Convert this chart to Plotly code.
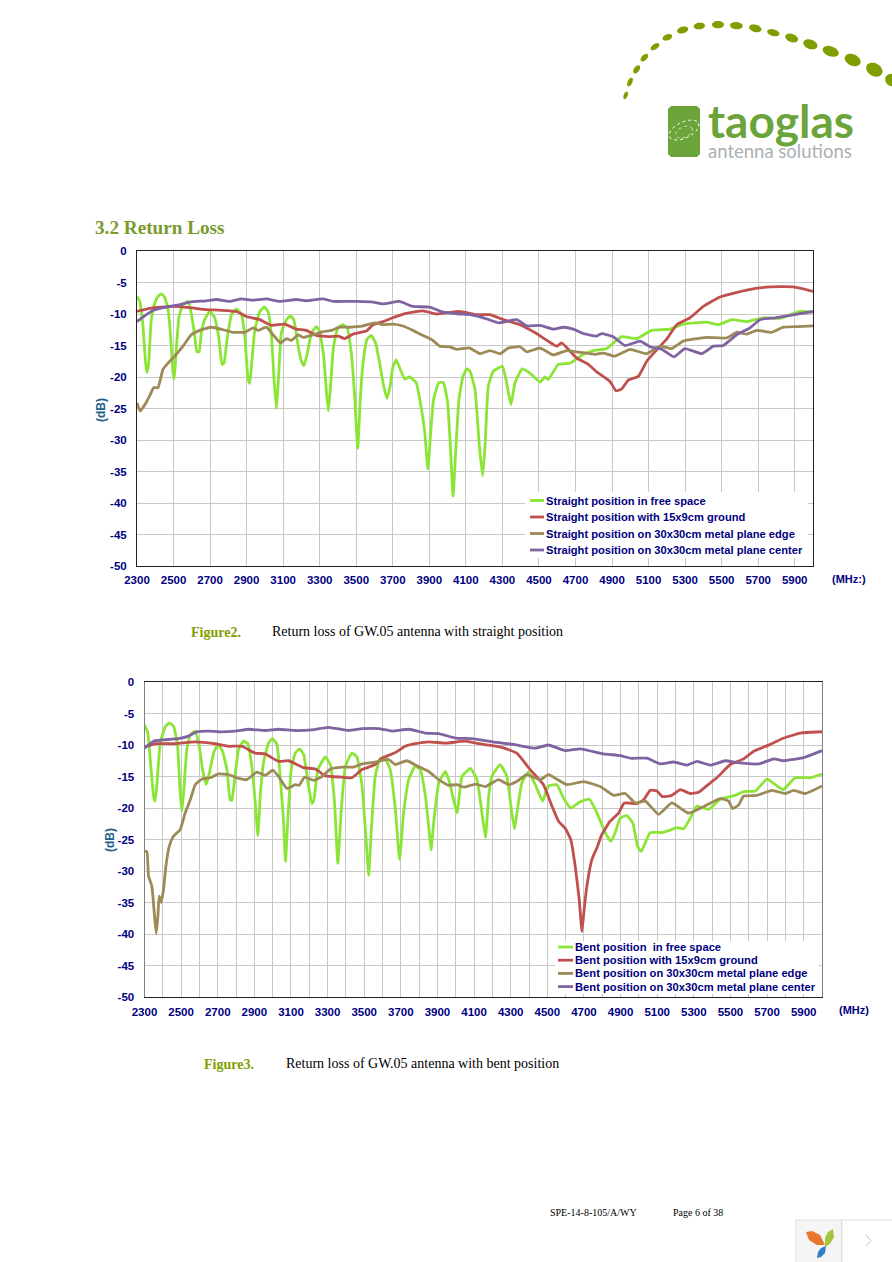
import numpy as np
import plotly.graph_objects as go

W, H = 892, 1262

# ---- top chart: straight position ----
s_free_x = [2300,2315,2333,2347,2355,2364,2378,2397,2415,2433,2451,2470,2484,2497,2504,2515,2530,2552,2579,2597,2616,2628,2640,2652,2670,2698,2725,2749,2765,2776,2793,2817,2844,2871,2890,2908,2917,2928,2945,2972,2996,3017,3036,3050,3063,3074,3090,3118,3140,3158,3182,3200,3214,3231,3255,3282,3300,3322,3336,3347,3358,3376,3400,3427,3450,3473,3491,3508,3522,3537,3559,3582,3606,3628,3650,3668,3686,3700,3719,3737,3765,3792,3828,3856,3875,3892,3905,3923,3952,3977,4000,4015,4030,4044,4062,4084,4106,4123,4150,4174,4192,4205,4223,4250,4300,4323,4347,4369,4409,4451,4506,4533,4551,4606,4670,4743,4798,4871,4907,4953,5035,5117,5217,5290,5418,5482,5555,5637,5728,5819,5929,6000]
s_free_y = [-7.2,-8,-12,-17.8,-19.3,-17.8,-11,-8.3,-7.2,-6.8,-7.3,-9.3,-13.5,-19.3,-20.3,-15.6,-10.4,-8.5,-8,-9.9,-13.5,-16,-16,-13,-10.9,-9.6,-10.6,-14,-18,-17.8,-14,-10.1,-9.2,-10,-13.5,-20.4,-21,-17.8,-12.5,-9.6,-8.9,-9.6,-13.5,-20.4,-25,-20.4,-13,-10.9,-10.3,-10.9,-15.1,-17.5,-18.2,-16.4,-13,-12,-12.8,-16.7,-22,-25.4,-22,-15.1,-12.2,-11.7,-12.2,-16.2,-23,-31.3,-23.6,-17.8,-14,-13.4,-14.6,-17.8,-21.4,-23.4,-21.4,-18.5,-17.3,-18.5,-20.3,-20,-20.9,-24.9,-28.8,-34.6,-29.9,-23.6,-20.9,-20.9,-24,-30.9,-38.9,-32,-23.6,-19.9,-18.7,-19.1,-22,-31,-35.7,-31,-21.4,-19.1,-18.3,-20.9,-24.4,-20.9,-18.7,-19.4,-20.8,-20,-20.4,-18,-17.8,-16.4,-15.8,-15.5,-14.6,-13.6,-13.9,-12.6,-12.4,-11.6,-11.3,-11.7,-10.9,-11.2,-10.6,-10.7,-9.6,-9.7]

s_ground_x = [2300,2369,2497,2588,2680,2753,2844,2899,2972,3036,3108,3172,3227,3282,3355,3400,3437,3482,3555,3592,3647,3700,3774,3865,3939,4066,4158,4232,4305,4396,4487,4597,4624,4707,4770,4816,4889,4922,4953,4989,5044,5090,5154,5199,5254,5327,5400,5491,5637,5765,5892,6000]
s_ground_y = [-9.6,-9.1,-8.8,-9,-9.3,-9.4,-9.6,-10.4,-10.9,-11.8,-11.6,-12.4,-12.6,-13.4,-13.6,-13.5,-13.9,-13.2,-12.7,-11.7,-11.2,-10.6,-9.9,-9.5,-10,-9.6,-10.1,-10.1,-10.9,-11.7,-13.1,-15.1,-14.6,-17,-18,-19.2,-20.7,-22.2,-21.9,-20.5,-19.9,-17.5,-15.4,-14,-11.7,-10.6,-8.8,-7.3,-6.2,-5.7,-5.7,-6.4]

s_edge_x = [2300,2318,2351,2369,2391,2415,2442,2470,2506,2552,2597,2643,2707,2771,2825,2889,2935,2962,3008,3045,3085,3118,3145,3181,3209,3263,3318,3364,3409,3464,3537,3601,3647,3700,3756,3810,3865,3920,3957,4011,4048,4121,4177,4232,4287,4332,4396,4433,4506,4579,4652,4707,4807,4852,4916,4998,5090,5163,5226,5290,5418,5527,5582,5637,5692,5774,5838,5920,6000]
s_edge_y = [-24.1,-25.4,-24,-23,-21.7,-21.7,-18.8,-17.8,-16.7,-15.1,-13.3,-12.6,-12.1,-12.5,-12.9,-12.9,-12.2,-12.6,-12.1,-13.3,-14.6,-13.9,-14.2,-13.3,-13.7,-13.3,-12.8,-12.6,-12.1,-12.1,-11.9,-11.4,-11.7,-11.6,-11.9,-12.6,-13.4,-14.2,-15.1,-15.2,-15.6,-15.4,-16.3,-15.8,-16.3,-15.4,-15.2,-16,-15.4,-16.5,-15.8,-16,-16.4,-16.2,-16.7,-15.6,-16.3,-15.1,-15.5,-14.3,-13.7,-13.8,-12.9,-13.2,-12.6,-12.9,-12.1,-12,-11.9]

s_center_x = [2300,2342,2388,2460,2534,2588,2680,2734,2807,2871,2935,3008,3081,3172,3227,3318,3373,3446,3500,3592,3647,3737,3810,3902,3975,4066,4123,4196,4278,4378,4433,4506,4579,4633,4688,4743,4816,4843,4907,4971,5053,5108,5172,5239,5299,5391,5455,5509,5582,5655,5710,5792,5874,6000]
s_center_y = [-11.2,-10.3,-9.4,-8.9,-8.5,-8.1,-7.9,-7.7,-8,-7.6,-7.8,-7.6,-8,-7.7,-7.9,-7.6,-8,-8,-8,-8.1,-8.4,-8,-8.8,-8.9,-9.7,-10,-10.1,-10.6,-11.4,-10.9,-11.9,-11.8,-12.4,-12.1,-12.4,-13.1,-13.5,-13.1,-13.6,-15,-14.3,-15.2,-15.6,-16.8,-15.5,-16.3,-15.1,-15,-13.3,-12.2,-10.9,-10.6,-10.2,-9.6]

# ---- bottom chart: bent position ----
b_free_x = [2300,2318,2336,2351,2358,2367,2386,2413,2435,2458,2480,2495,2504,2515,2531,2550,2577,2599,2617,2637,2655,2677,2701,2726,2750,2768,2777,2792,2814,2841,2865,2886,2905,2919,2932,2950,2977,2999,3023,3041,3060,3070,3083,3101,3123,3147,3169,3193,3214,3224,3247,3287,3315,3338,3356,3375,3397,3433,3460,3488,3509,3524,3539,3560,3588,3615,3642,3670,3693,3715,3743,3779,3806,3834,3852,3865,3879,3907,3943,3965,3988,4007,4034,4080,4116,4143,4162,4180,4197,4242,4279,4306,4321,4337,4361,4397,4434,4474,4506,4552,4588,4628,4679,4730,4771,4816,4847,4871,4898,4934,4967,4993,5013,5062,5126,5171,5208,5244,5281,5317,5381,5444,5526,5572,5636,5699,5745,5787,5854,5936,6000]
b_free_y = [-6.8,-8.1,-13.9,-18.4,-18.9,-16.5,-9.7,-7.1,-6.5,-7,-9.9,-17.6,-20.5,-17.1,-10.7,-8.4,-7.8,-10.2,-13.9,-16.3,-14.4,-11.3,-9.9,-11,-13.9,-18.7,-18.8,-15.5,-10.7,-9.4,-9.8,-13.4,-19.2,-24.4,-18.1,-12.8,-9.7,-9,-9.9,-15,-22.4,-28.5,-21.8,-13.9,-11.3,-10.6,-11.5,-16,-19.3,-18.9,-13.9,-11.9,-13.1,-19.2,-28.8,-20.2,-13.4,-11.3,-11.9,-16.5,-24.5,-30.7,-23.4,-15,-12.1,-12.2,-13.9,-20.2,-28.2,-20.8,-15.5,-13.3,-13.9,-18.1,-22.9,-26.7,-22.4,-16,-14.2,-15.8,-18.7,-20.8,-15,-13.7,-15.5,-20.8,-24.7,-18.1,-15,-13.1,-15,-20.8,-23.3,-20.2,-16,-14.3,-16.3,-18.9,-16.5,-16.3,-18.4,-20,-19,-18.6,-20.8,-23.9,-25.3,-23.9,-21.6,-21.2,-22.4,-26.1,-26.9,-23.9,-23.9,-23.5,-23.1,-23.3,-21.6,-19.7,-20.2,-18.6,-18,-17.4,-17.3,-15.4,-16.3,-17.1,-15.2,-15.2,-14.6]

b_ground_x = [2300,2358,2468,2577,2686,2759,2832,2905,2959,3032,3087,3169,3233,3287,3378,3433,3488,3560,3597,3670,3724,3779,3852,3943,4052,4125,4242,4333,4406,4479,4525,4561,4597,4628,4652,4674,4689,4701,4716,4743,4771,4798,4843,4889,4920,4989,5026,5062,5098,5129,5180,5226,5281,5326,5390,5426,5499,5572,5627,5718,5781,5882,6000]
b_ground_y = [-10.3,-9.8,-9.8,-9.5,-9.8,-10.2,-10.2,-11.3,-11.4,-12.6,-12.5,-13.6,-13.8,-14.9,-15.1,-15.2,-13.9,-13.1,-12.1,-11.2,-10.2,-9.8,-9.5,-9.7,-9.4,-9.8,-10.3,-11.3,-13.9,-16.3,-19.7,-22.1,-23.2,-25,-29.2,-34.5,-39.6,-36.1,-32.4,-28.2,-26.3,-24.2,-22.1,-20.8,-19.2,-19.3,-18.7,-17.2,-17.3,-18.2,-18,-17.1,-17.7,-17.5,-16,-15.2,-13.1,-12.2,-11,-9.9,-9,-8.1,-7.9]

b_edge_x = [2300,2313,2322,2340,2355,2364,2373,2380,2391,2404,2417,2435,2458,2495,2522,2550,2577,2614,2659,2704,2759,2814,2859,2914,2959,3001,3032,3078,3123,3145,3174,3224,3269,3315,3378,3442,3488,3560,3633,3670,3733,3788,3852,3907,3961,4007,4043,4107,4162,4233,4288,4333,4388,4461,4506,4607,4698,4789,4862,4925,4980,5035,5107,5180,5271,5372,5444,5490,5512,5545,5572,5645,5727,5800,5845,5909,6000]
b_edge_y = [-26.9,-26.9,-30.8,-32.4,-37.2,-39.9,-37.2,-34,-35,-32.9,-29.2,-26.1,-24.5,-23.4,-20.8,-18.7,-16.3,-15.4,-15.2,-14.6,-14.7,-15.3,-15.5,-14.3,-14.8,-14,-15,-16.9,-16.3,-16.4,-15.1,-15.6,-15,-13.8,-13.5,-13.5,-13,-12.7,-12.3,-13.1,-12.5,-13.3,-14.2,-15.5,-16.4,-16.3,-16.7,-16.2,-16.6,-15.5,-16.3,-15.8,-14.7,-15.5,-14.7,-16.3,-15.8,-16.6,-18,-17.7,-19.2,-18.9,-21,-19.2,-20.8,-19.5,-18.5,-18.9,-20.1,-19.5,-18.1,-18,-17.2,-17.7,-17.2,-17.7,-16.5]

b_center_x = [2300,2349,2395,2486,2540,2586,2650,2704,2795,2868,2959,3032,3123,3214,3305,3415,3488,3579,3652,3743,3834,3907,3998,4089,4224,4315,4434,4506,4597,4679,4807,4898,4953,5044,5117,5189,5262,5317,5390,5472,5536,5654,5736,5790,5900,6000]
b_center_y = [-10.5,-9.4,-9.2,-9,-8.6,-7.9,-7.8,-7.9,-7.8,-7.5,-7.7,-7.5,-7.7,-7.6,-7.2,-7.7,-7.4,-7.4,-7.8,-7.5,-8.1,-8.2,-8.9,-9,-9.6,-9.9,-10.5,-10,-10.9,-10.6,-11.4,-11.7,-12.1,-12.1,-13,-12.7,-13.2,-12.6,-13.2,-12.5,-12.8,-13,-12.2,-12.5,-12,-10.9]

x_ticks = list(range(2300, 6000, 200))
y_ticks = list(range(-50, 1, 5))
y_labels = ['-50', '-45', '-40', '-35', '-30', '-25', '-20', '-15', '-10', '-5', '0']

top_names = ["Straight position in free space", "Straight position with 15x9cm ground",
             "Straight position on 30x30cm metal plane edge", "Straight position on 30x30cm metal plane center"]
bottom_names = ["Bent position  in free space", "Bent position with 15x9cm ground",
                "Bent position on 30x30cm metal plane edge", "Bent position on 30x30cm metal plane center"]

# Excel-ish palette of the datasheet
COLORS = ['#8BE536', '#C0504D', '#9C8A57', '#8064A2']
NAVY = '#00007F'
OLIVE = '#7F9E00'
GRID = '#C8C8C8'
SANS = 'Liberation Sans, Arial, sans-serif'
SERIF = 'Liberation Serif, Times New Roman, serif'


def px(x):
    return x / W


def py(y):
    return 1 - y / H


def text(s, x, y, size=12, color='black', family=SERIF, bold=False, anchor='left', angle=0):
    fig.add_annotation(
        text=f'<b>{s}</b>' if bold else s, x=px(x), y=py(y), xref='paper', yref='paper',
        xanchor=anchor, yanchor='middle', showarrow=False, textangle=angle,
        font=dict(family=family, size=size, color=color), borderpad=0,
    )


def box(x0, y0, x1, y1, fill='white', line=None, width=1):
    fig.add_shape(type='rect', xref='paper', yref='paper', x0=px(x0), x1=px(x1), y0=py(y0), y1=py(y1),
                  fillcolor=fill, line=dict(color=line, width=width if line else 0), layer='above')


def poly(points, fill, line=None, dash=None, width=1):
    path = 'M' + ' L'.join(f'{px(x):.5f},{py(y):.5f}' for x, y in points) + ' Z'
    fig.add_shape(type='path', xref='paper', yref='paper', path=path, fillcolor=fill,
                  line=dict(color=line, width=width if line else 0, dash=dash), layer='above')


def ellipse(cx, cy, a, b, angle, fill, line=None, dash=None, width=1):
    t = np.linspace(0, 2 * np.pi, 28, endpoint=False)
    r = np.radians(angle)
    ex = cx + a * np.cos(t) * np.cos(r) + b * np.sin(t) * np.sin(r)
    ey = cy - a * np.cos(t) * np.sin(r) + b * np.sin(t) * np.cos(r)
    poly(list(zip(ex, ey)), fill, line, dash, width)


def axis_style(linecolor='#222222', **kw):
    return dict(showline=True, mirror=True, linecolor=linecolor, linewidth=1, gridcolor=GRID, gridwidth=1,
                zeroline=False, automargin=False, showgrid=True, ticks='outside', tickcolor='rgba(0,0,0,0)',
                tickfont=dict(family=SANS, size=11.5, color=NAVY, weight='bold'), **kw)


fig = go.Figure()

top = [(s_free_x, s_free_y), (s_ground_x, s_ground_y), (s_edge_x, s_edge_y), (s_center_x, s_center_y)]
bottom = [(b_free_x, b_free_y), (b_ground_x, b_ground_y), (b_edge_x, b_edge_y), (b_center_x, b_center_y)]

for (sx, sy), name, color in zip(top, top_names, COLORS):
    fig.add_trace(go.Scatter(x=sx, y=sy, name=name, mode='lines', xaxis='x', yaxis='y',
                             line=dict(color=color, width=2.8, shape='spline', smoothing=0.4)))
for (sx, sy), name, color in zip(bottom, bottom_names, COLORS):
    fig.add_trace(go.Scatter(x=sx, y=sy, name=name, mode='lines', xaxis='x2', yaxis='y2',
                             line=dict(color=color, width=2.8, shape='spline', smoothing=0.4)))

fig.update_layout(
    width=W, height=H, autosize=False, showlegend=False,
    margin=dict(l=0, r=0, t=0, b=0), paper_bgcolor='white', plot_bgcolor='white',
    xaxis=axis_style(domain=[px(137), px(813)], range=[2300, 6000], tickvals=x_ticks, anchor='y',
                     ticklen=3, tickangle=0),
    yaxis=axis_style(domain=[py(566), py(251)], range=[-50, 0], tickvals=y_ticks, ticktext=y_labels,
                     anchor='x', ticklen=7),
    xaxis2=axis_style(domain=[px(144.5), px(822)], range=[2300, 6000], tickvals=x_ticks, anchor='y2',
                      ticklen=4, tickangle=0,
                      minor=dict(dtick=100, tick0=2300, showgrid=True, gridcolor=GRID, gridwidth=1, ticks='')),
    yaxis2=axis_style(linecolor='#808080', domain=[py(997), py(682)], range=[-50, 0], tickvals=y_ticks,
                      ticktext=y_labels, anchor='x2', ticklen=7),
)

# hand-placed legends, the rows are tighter than a plotly legend allows
box(525, 492, 808, 558)
for i, (name, color) in enumerate(zip(top_names, COLORS)):
    y = 500.5 + i * 16.5
    fig.add_shape(type='line', xref='paper', yref='paper', x0=px(530), x1=px(544), y0=py(y), y1=py(y),
                  line=dict(color=color, width=2.8), layer='above')
    text(name, 544.5, y, size=11.15, color=NAVY, family=SANS, bold=True)
box(555, 941, 819, 994)
for i, (name, color) in enumerate(zip(bottom_names, COLORS)):
    y = 947 + i * 13.2
    fig.add_shape(type='line', xref='paper', yref='paper', x0=px(558), x1=px(573), y0=py(y), y1=py(y),
                  line=dict(color=color, width=2.8), layer='above')
    text(name, 573.5, y, size=11.2, color=NAVY, family=SANS, bold=True)

# axis captions
text('(dB)', 101, 410, size=12, color='#1F5F8F', family=SANS, bold=True, anchor='center', angle=-90)
text('(dB)', 110, 840, size=12, color='#1F5F8F', family=SANS, bold=True, anchor='center', angle=-90)
text('(MHz:)', 831, 579, size=11, color=NAVY, family=SANS, bold=True)
text('(MHz)', 838, 1010, size=11, color=NAVY, family=SANS, bold=True)

# page text
text('3.2 Return Loss', 94, 227, size=19.2, color='#7A9A2E', bold=True)
text('Figure2.', 190, 632, size=14, color=OLIVE, bold=True)
text('Return loss of GW.05 antenna with straight position', 271, 631, size=14)
text('Figure3.', 203, 1064, size=14, color=OLIVE, bold=True)
text('Return loss of GW.05 antenna with bent position', 285, 1063, size=14)
text('SPE-14-8-105/A/WY', 549, 1212, size=10)
text('Page 6 of 38', 672, 1212, size=10)

# logo arc
logo_dots = [(47,256,12,6,70),(60,216,14,7,65),(80,178,14,8,55),(103,143,14,8,45),(135,110,15,8,35),
             (172,82,15,9,20),(218,60,17,10,15),(268,48,17,10,5),(324,44,18,11,0),(379,47,19,11,-5),
             (436,55,19,11,-15),(490,68,19,10,-15),(545,84,20,12,-20),(601,103,22,14,-20),(662,124,25,15,-20),
             (728,150,25,17,-25),(793,179,26,19,-30),(845,210,20,18,-35)]
for zx, zy, a, b, ang in logo_dots:
    ellipse(610 + zx / 3, 10 + zy / 3, a / 3, b / 3, ang, '#7F9E00')

# logo badge and wordmark
poly([(671,106),(697,106),(700,109),(700,154),(697,157),(671,157),(668,154),(668,109)], '#6BA43A')
ellipse(684, 130, 16, 8, 25, 'rgba(0,0,0,0)', line='white', dash='dot', width=1)
ellipse(684, 132, 9, 5, 25, 'rgba(0,0,0,0)', line='#CFE3B5', dash='dot', width=1)
text('taoglas', 707, 121, size=46, color='#6BA43A', family='Lato', bold=True)
text('antenna solutions', 707, 151, size=18.5, color='#A9B0B5', family='Lato')

# viewer widget in the corner
box(796, 1220, 842, 1263, fill='#F5F5F5', line='#DDDDDD')
box(842, 1220, 893, 1263, fill='white', line='#DDDDDD')
poly([(806,1232),(812,1231),(820,1235),(825,1245),(817,1245),(809,1240)], '#E8772E')
poly([(833,1229),(834,1237),(830,1244),(825,1247),(825,1238),(828,1232)], '#A5C63B')
poly([(826,1246),(825,1253),(821,1257),(817,1258),(818,1252),(821,1248)], '#2E7FC8')
fig.add_shape(type='path', xref='paper', yref='paper', layer='above',
              path=f'M{px(866):.5f},{py(1235):.5f} L{px(871):.5f},{py(1240.5):.5f} L{px(866):.5f},{py(1246):.5f}',
              line=dict(color='#BBBBBB', width=1))

fig.write_html("out.html", config={'displayModeBar': False},
               post_script="document.body.style.margin='0';document.body.style.overflow='hidden';")
